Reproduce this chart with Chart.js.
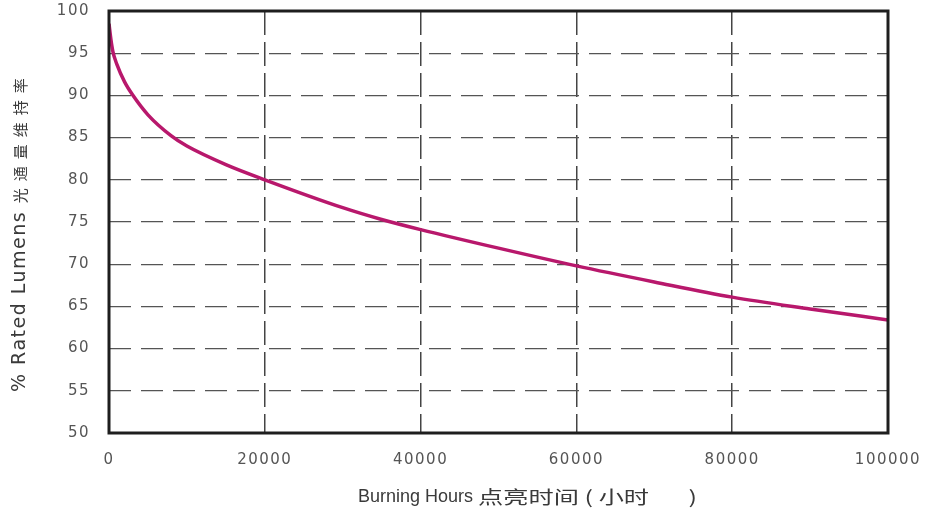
<!DOCTYPE html>
<html>
<head>
<meta charset="utf-8">
<script src="https://cdn.jsdelivr.net/npm/chart.js@4/dist/chart.umd.min.js"></script>
<style>
  html, body { margin: 0; padding: 0; background: #fff; }
  #wrap { width: 928px; height: 514px; }
</style>
</head>
<body>
<div id="wrap"><canvas id="c"></canvas></div>
<script>
const hours = [0, 250, 500, 1000, 2000, 3000, 5000, 8000, 10000, 15000, 20000, 30000, 35000, 40000, 50000, 60000, 70000, 80000, 90000, 100000]
const lumens = [98.5, 96.6, 95.2, 93.7, 91.6, 90.1, 87.7, 85.2, 84, 81.8, 80, 76.7, 75.3, 74.1, 71.9, 69.8, 67.9, 66.1, 64.7, 63.4]
const xTitleEn = 'Burning Hours '
const xTitleCn = '点亮时间 ( 小时       )'
const yTitleEn = '% Rated Lumens '
const yTitleCn = '光通量维持率'

const pontos = hours.map((h, i) => ({x: h, y: lumens[i]}))
const familia = '"DejaVu Sans", "Noto Sans CJK SC", sans-serif'

// os digitos da figura sao largos
const espaco = {
  id: 'espaco',
  beforeDraw(chart) { chart.ctx.letterSpacing = '1.5px' },
  afterDraw(chart) { chart.ctx.letterSpacing = '0px' }
}

const caixa = {
  id: 'caixa',
  afterDatasetsDraw(chart) {
    const {ctx, chartArea: a} = chart
    ctx.save()
    ctx.strokeStyle = '#1e1e1e'
    ctx.lineWidth = 3
    ctx.strokeRect(a.left, a.top, a.right - a.left, a.bottom - a.top)

    ctx.fillStyle = '#3a3a3a'
    ctx.textBaseline = 'middle'
    ctx.textAlign = 'left'
    // titulo x
    const x0 = a.left + 249
    ctx.letterSpacing = '0px'
    ctx.font = '18px "Liberation Sans", sans-serif'
    ctx.fillText(xTitleEn, x0, 497)
    const w1 = ctx.measureText(xTitleEn).width
    ctx.save()
    ctx.translate(x0 + w1, 497)
    ctx.scale(1.4, 1)
    ctx.font = '18px "Noto Sans CJK SC", sans-serif'
    ctx.fillText(xTitleCn, 0, 0)
    ctx.restore()

    // titulo y
    ctx.translate(20, 392)
    ctx.rotate(-Math.PI / 2)
    ctx.letterSpacing = '1.5px'
    ctx.font = '19px "DejaVu Sans", sans-serif'
    ctx.fillText(yTitleEn, 0, 0)
    const w2 = ctx.measureText(yTitleEn).width
    ctx.letterSpacing = '7px'
    ctx.font = '15px "Noto Sans CJK SC", sans-serif'
    ctx.fillText(yTitleCn, w2, 0)
    ctx.restore()
  }
}

const fonte = {family: familia, size: 15}

new Chart(document.getElementById('c'), {
  type: 'line',
  data: {
    datasets: [{
      data: pontos,
      borderColor: '#b8186c',
      borderWidth: 3.5,
      pointRadius: 0,
      cubicInterpolationMode: 'monotone',
      fill: false
    }]
  },
  options: {
    responsive: true,
    maintainAspectRatio: false,
    animation: false,
    layout: {padding: {left: 0, right: 40, top: 11, bottom: 0}},
    plugins: {
      legend: {display: false},
      tooltip: {enabled: false}
    },
    scales: {
      x: {
        type: 'linear',
        min: 0,
        max: 100000,
        ticks: {stepSize: 20000, color: '#555', font: fonte, padding: 18, maxRotation: 0, callback: v => v},
        grid: {color: '#444', lineWidth: 1.5, drawTicks: false},
        border: {display: false, dash: [24, 7]},
        afterFit: s => { s.height = 81; s.paddingLeft = 0; s.paddingRight = 0 }
      },
      y: {
        min: 50,
        max: 100,
        ticks: {stepSize: 5, color: '#555', font: fonte, padding: 19},
        grid: {color: '#555', lineWidth: 1.3, drawTicks: false},
        border: {display: false, dash: [22, 10]},
        afterFit: s => { s.width = 109; s.paddingTop = 0; s.paddingBottom = 0 }
      }
    }
  },
  plugins: [espaco, caixa]
})
</script>
</body>
</html>
